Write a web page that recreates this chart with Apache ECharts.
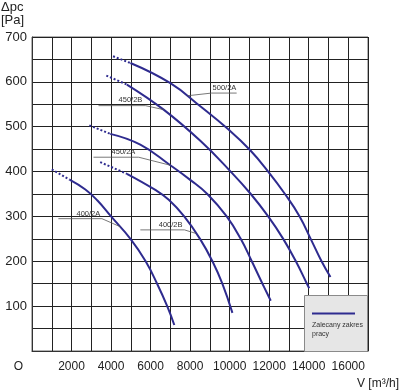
<!DOCTYPE html>
<html><head><meta charset="utf-8">
<script src="https://cdn.jsdelivr.net/npm/echarts@6/dist/echarts.min.js"></script>
<style>html,body{margin:0;padding:0;background:#fff}#c{width:400px;height:392px}</style>
</head><body><div id="c"></div>
<script>
// ---- data ----
const xLabelValues = [2000, 4000, 6000, 8000, 10000, 12000, 14000, 16000];
const yLabelValues = [100, 200, 300, 400, 500, 600, 700];
const curveNames = ['400/2A', '400/2B', '450/2A', '450/2B', '500/2A'];

const dotted400A = [[1000, 405], [1900, 382]];
const solid400A = [[1900, 382], [2700, 360], [3300, 336], [4000, 300], [5000, 249], [5750, 200], [6330, 150], [6840, 100], [7200, 58]];

const dotted400B = [[3450, 421], [4800, 395]];
const solid400B = [[4800, 395], [6240, 359], [6920, 337], [7700, 300], [8500, 250], [9130, 200], [9630, 150], [10140, 85]];

const dotted450A = [[2900, 503], [3960, 484]];
const solid450A = [[3960, 484], [5480, 460], [7000, 414], [8020, 381], [8870, 350], [9850, 300], [10560, 250], [11120, 200], [11660, 150], [12080, 112]];

const dotted450B = [[3760, 614], [4800, 594]];
const solid450B = [[4800, 594], [6660, 538], [8530, 468], [10050, 400], [11070, 350], [11950, 300], [12710, 250], [13350, 200], [13910, 150], [14025, 140]];

const dotted500A = [[4100, 657], [4980, 642]];
const solid500A = [[4980, 642], [7000, 597], [8530, 545], [9960, 493], [11030, 448], [11950, 400], [12800, 350], [13540, 300], [14100, 250], [14650, 200], [15100, 165]];

const dottedParts = [dotted400A, dotted400B, dotted450A, dotted450B, dotted500A];
const solidParts = [solid400A, solid400B, solid450A, solid450B, solid500A];

const legendText = 'Zalecany zakres\npracy';
const yTitle = 'Δpc\n[Pa]';
const xTitle = 'V [m³/h]';

// ---- annotation anchors (data units), kept separate from the data ----
const curveLabels = [
  {text: '500/2A', curve: [7868, 569], elbow: [9086, 575], end: [10355, 575], at: [9137, 577], align: 'left'},
  {text: '450/2B', curve: [6665, 538], elbow: [5736, 547], end: [3365, 547], at: [5584, 550], align: 'right'},
  {text: '450/2A', curve: [7005, 414], elbow: [5396, 432], end: [3112, 432], at: [5228, 435], align: 'right'},
  {text: '400/2A', curve: [4467, 277], elbow: [3538, 295], end: [1335, 295], at: [3452, 297], align: 'right'},
  {text: '400/2B', curve: [8300, 262], elbow: [7715, 270], end: [5482, 270], at: [7614, 272], align: 'right'}
];

// ---- chart ----
const FONT = '"Liberation Sans", Arial, sans-serif';
const NAVY = '#2e2b8f';
const chart = echarts.init(document.getElementById('c'), null, {renderer: 'canvas'});

const series = [];
curveNames.forEach((name, i) => {
  series.push({
    name: name, type: 'line', data: dottedParts[i], symbol: 'none', smooth: false,
    lineStyle: {color: NAVY, width: 2, type: [2, 2]}, z: 3, silent: true
  });
  series.push({
    name: name, type: 'line', data: solidParts[i], symbol: 'none', smooth: 0.45,
    lineStyle: {color: NAVY, width: 2}, z: 3, silent: true
  });
});

chart.setOption({
  animation: false,
  backgroundColor: '#fff',
  grid: {left: 32, top: 37, width: 336, height: 314, show: true, borderColor: '#666', borderWidth: 1, backgroundColor: 'transparent'},
  xAxis: {
    type: 'value', min: 0, max: 17000, interval: 1000,
    axisLine: {show: true, lineStyle: {color: '#333', width: 1}},
    axisTick: {show: false},
    splitLine: {show: true, lineStyle: {color: '#222', width: 1}},
    axisLabel: {
      show: true, margin: 10, fontSize: 12, color: '#222', fontFamily: FONT, interval: 0, hideOverlap: false,
      formatter: v => v === 0 ? '{o|O}' : (xLabelValues.indexOf(v) >= 0 ? String(v) : ''),
      rich: {o: {fontSize: 12, color: '#222', fontFamily: FONT, padding: [0, 27, 0, 0]}}
    }
  },
  yAxis: {
    type: 'value', min: 0, max: 700, interval: 50,
    axisLine: {show: true, lineStyle: {color: '#333', width: 1}},
    axisTick: {show: false},
    splitLine: {show: true, lineStyle: {color: '#222', width: 1}},
    axisLabel: {
      show: true, margin: 5, fontSize: 13, color: '#222', fontFamily: FONT,
      formatter: v => yLabelValues.indexOf(v) >= 0 ? String(v) : ''
    }
  },
  series: series
});

const px = p => chart.convertToPixel({gridIndex: 0}, p);
const graphics = [];
curveLabels.forEach(l => {
  const c = px(l.curve), e = px(l.elbow), f = px(l.end), t = px(l.at);
  graphics.push({
    type: 'polyline', z: 10, silent: true,
    shape: {points: [c, e, f]},
    style: {stroke: '#555', lineWidth: 0.8, fill: null}
  });
  graphics.push({
    type: 'text', z: 11, silent: true,
    style: {text: l.text, x: t[0], y: t[1], fill: '#333', font: '7.5px ' + FONT,
      textAlign: l.align, align: l.align, textVerticalAlign: 'bottom', verticalAlign: 'bottom'}
  });
});
// axis titles
graphics.push({type: 'text', z: 11, silent: true,
  style: {text: yTitle, x: 1, y: 1, fill: '#222', font: '13px ' + FONT, lineHeight: 13,
    textAlign: 'left', align: 'left', textVerticalAlign: 'top', verticalAlign: 'top'}});
graphics.push({type: 'text', z: 11, silent: true,
  style: {text: xTitle, x: 399, y: 384, fill: '#222', font: '12px ' + FONT,
    textAlign: 'right', align: 'right', textVerticalAlign: 'middle', verticalAlign: 'middle'}});
// legend box
graphics.push({type: 'rect', z: 12, silent: true,
  shape: {x: 304.5, y: 295.5, width: 63, height: 56},
  style: {fill: '#e6e6e6', stroke: '#8a8a8a', lineWidth: 1}});
graphics.push({type: 'line', z: 13, silent: true,
  shape: {x1: 312, y1: 313.5, x2: 355, y2: 313.5},
  style: {stroke: NAVY, lineWidth: 2}});
graphics.push({type: 'text', z: 13, silent: true,
  style: {text: legendText, x: 312, y: 321, fill: '#333', font: '7px ' + FONT, lineHeight: 8.5,
    textAlign: 'left', align: 'left', textVerticalAlign: 'top', verticalAlign: 'top'}});

chart.setOption({graphic: graphics});
</script>
</body></html>
